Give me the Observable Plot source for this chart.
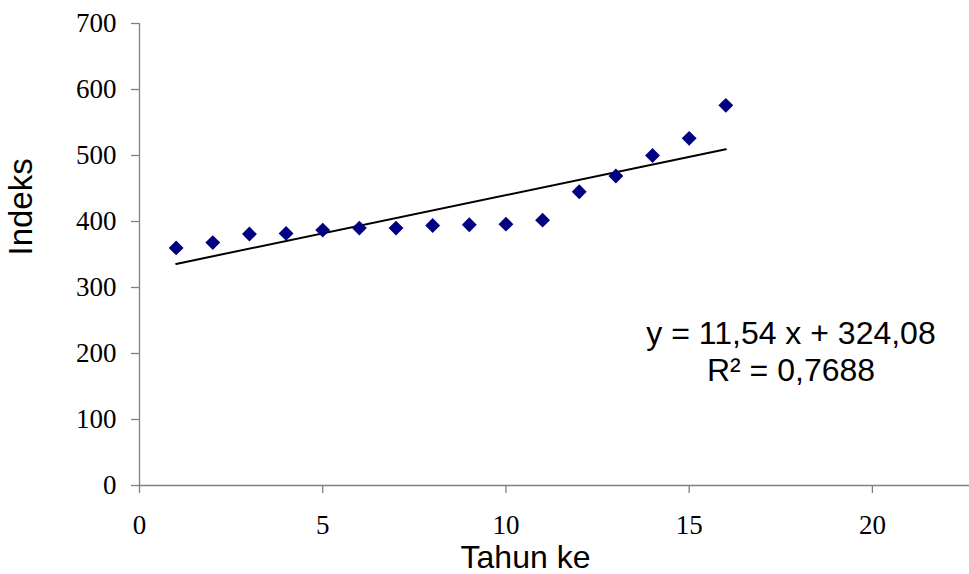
<!DOCTYPE html>
<html>
<head>
<meta charset="utf-8">
<script src="https://cdn.jsdelivr.net/npm/d3@7"></script>
<script src="https://cdn.jsdelivr.net/npm/@observablehq/plot@0.6"></script>
<style>
  html, body { margin: 0; padding: 0; background: #fff; }
  #chart { width: 969px; height: 574px; }
</style>
</head>
<body>
<div id="chart"></div>
<script>
// Data
const tahun = [1, 2, 3, 4, 5, 6, 7, 8, 9, 10, 11, 12, 13, 14, 15, 16];
const indeks = [360, 368, 381, 382, 387, 390, 390, 394, 395, 396, 402, 445, 469, 500, 526, 576];
const xTicks = [0, 5, 10, 15, 20];
const yTicks = [0, 100, 200, 300, 400, 500, 600, 700];
const xTitle = "Tahun ke";
const yTitle = "Indeks";
const equationText = "y = 11,54 x + 324,08\nR² = 0,7688";

const data = tahun.map((t, i) => ({tahun: t, indeks: indeks[i]}));

const serif = "'Liberation Serif', 'Times New Roman', serif";
const sans = "'Liberation Sans', Arial, sans-serif";
const axisGray = "#808080";

const chart = Plot.plot({
  width: 969,
  height: 574,
  marginLeft: 139,
  marginRight: 0,
  marginTop: 23,
  marginBottom: 89,
  style: {background: "#fff", overflow: "visible"},
  x: {domain: [0, 22.65]},
  y: {domain: [0, 700]},
  marks: [
    Plot.ruleX([0], {stroke: axisGray, strokeWidth: 1.3}),
    Plot.ruleY([0], {stroke: axisGray, strokeWidth: 1.3}),
    Plot.axisY({ticks: yTicks, tickSize: 8, tickPadding: 15, stroke: axisGray, strokeWidth: 1.3,
      fill: "#000", fontSize: 27, fontFamily: serif, label: null}),
    Plot.axisX({ticks: xTicks, tickSize: 8, tickPadding: 21, stroke: axisGray, strokeWidth: 1.3,
      fill: "#000", fontSize: 27, fontFamily: serif, label: null}),
    Plot.linearRegressionY(data, {x: "tahun", y: "indeks", ci: 0, stroke: "#000", strokeWidth: 2}),
    Plot.dot(data, {x: "tahun", y: "indeks", symbol: "diamond2", r: 6.7, fill: "#000080", stroke: "none"}),
    Plot.text([xTitle], {frameAnchor: "bottom", lineAnchor: "top", dx: -29, dy: 60,
      fontSize: 32, fontFamily: sans, fill: "#000"}),
    Plot.text([yTitle], {frameAnchor: "left", rotate: -90, lineAnchor: "middle", dx: -118, dy: 1,
      fontSize: 33, fontFamily: sans, fill: "#000"}),
    Plot.text([equationText], {frameAnchor: "top-right", textAnchor: "middle", lineAnchor: "top",
      dx: -178.5, dy: 294, lineHeight: 1.16, fontSize: 32, fontFamily: sans, fill: "#000"})
  ]
});
document.getElementById("chart").appendChild(chart);
</script>
</body>
</html>
